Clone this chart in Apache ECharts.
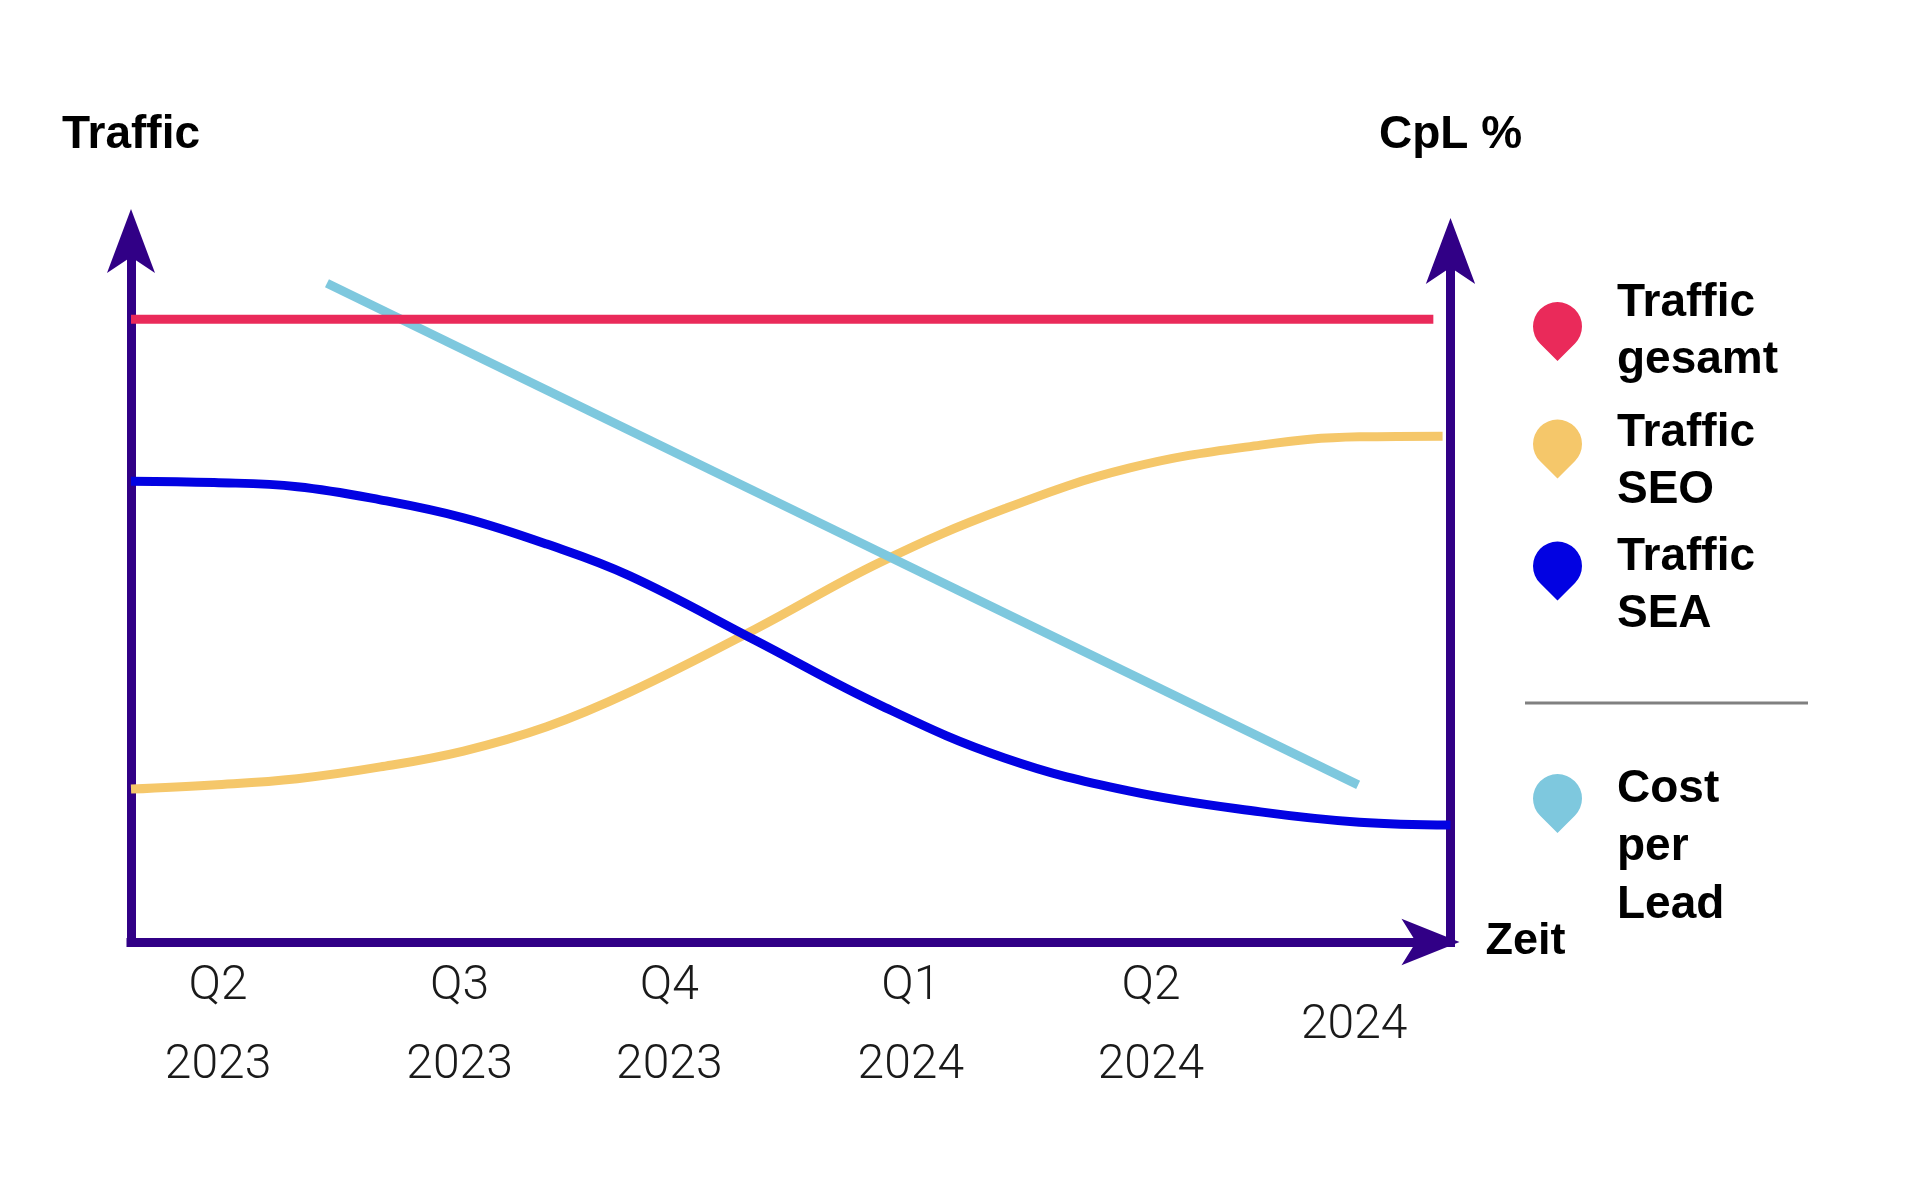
<!DOCTYPE html>
<html>
<head>
<meta charset="utf-8">
<script src="https://cdn.jsdelivr.net/npm/echarts@6/dist/echarts.min.js"></script>
<style>html,body{margin:0;padding:0;background:#fff}#c{width:1920px;height:1200px}</style>
</head>
<body>
<div id="c"></div>
<script>
// ---- data (time position 0..100 along the x axis, value 0..100) ----
const seriesNames = ['Traffic gesamt', 'Traffic SEO', 'Traffic SEA', 'Cost per Lead'];
const trafficGesamt = [[0, 90], [98.7, 90]];
const trafficSEO = [[0, 22.1], [6.2, 22.7], [12.6, 23.6], [18.9, 25.3], [25.2, 27.6], [31.5, 31.1], [37.8, 36.1], [47.3, 45.2], [56.8, 54.9], [66.2, 62.6], [75.7, 68.5], [85.6, 71.8], [93.1, 73.0], [99.4, 73.1]];
const trafficSEA = [[0, 66.6], [6.3, 66.4], [12.6, 65.8], [18.9, 63.9], [25.2, 61.3], [31.5, 57.5], [37.8, 52.9], [47.3, 43.6], [56.8, 34.2], [66.2, 26.6], [75.7, 21.8], [85.6, 18.8], [93.1, 17.3], [100, 16.9]];
const costPerLead = [[14.85, 95.2], [93.0, 22.7]];
const tickPositions = [6.6, 24.9, 40.8, 59.1, 77.3, 92.7];
const quarterLabels = ['Q2', 'Q3', 'Q4', 'Q1', 'Q2', ''];
const yearLabels = ['2023', '2023', '2023', '2024', '2024', '2024'];

const AXIS = '#310086';
const COLORS = { gesamt: '#EA2A5A', seo: '#F5C76A', sea: '#0202E2', cpl: '#7EC8DE' };
const BOLD = { fontFamily: 'Liberation Sans', fontWeight: 'bold', fontSize: 46, color: '#000' };
const PIN = 'path://M24.5,59 L7.2,41.9 A24.5,24.5 0 1 1 41.8,41.9 Z';

function legendBox(name, top, gap, lh) {
  return {
    data: [name], orient: 'vertical', left: 1533, top: top, padding: 0,
    icon: PIN, itemWidth: 49, itemHeight: 59, selectedMode: false,
    itemStyle: { borderWidth: 0 },
    formatter: n => (gap > 0 ? '{g| }\n' : '') + n.split(' ').map(w => '{t|' + w + '}').join('\n'),
    textStyle: Object.assign({}, BOLD, {
      lineHeight: lh, padding: [0, 0, 0, 30],
      rich: {
        g: { fontSize: 10, lineHeight: gap },
        t: Object.assign({}, BOLD, { lineHeight: lh })
      }
    })
  };
}

const chart = echarts.init(document.getElementById('c'), null, { renderer: 'canvas' });
chart.setOption({
  animation: false,
  backgroundColor: '#fff',
  grid: { left: 131, right: 469.5, top: 250, bottom: 258, containLabel: false },
  legend: [
    legendBox(seriesNames[0], 274.5, 0, 57),
    legendBox(seriesNames[1], 379, 26, 57),
    legendBox(seriesNames[2], 499, 30, 57),
    legendBox(seriesNames[3], 673, 87, 58)
  ],
  graphic: [{
    type: 'line', silent: true,
    shape: { x1: 1525, y1: 703, x2: 1808, y2: 703 },
    style: { stroke: '#808080', lineWidth: 3 }
  }],
  xAxis: {
    type: 'value', min: 0, max: 100,
    name: 'Zeit', nameLocation: 'end', nameGap: 35,
    nameTextStyle: Object.assign({}, BOLD, { fontSize: 45, lineHeight: 45 }),
    axisLine: { show: true, symbol: ['none', 'arrow'], symbolSize: [35, 58], symbolOffset: [0, 9],
      lineStyle: { color: AXIS, width: 9, cap: 'square' } },
    axisTick: { show: false },
    splitLine: { show: false },
    axisLabel: {
      customValues: tickPositions,
      margin: 5,
      fontFamily: 'Roboto', fontWeight: 300, fontSize: 48, lineHeight: 79, color: '#1a1a1a',
      formatter: function (v) {
        let i = tickPositions.findIndex(p => Math.abs(p - v) < 1e-6);
        if (i < 0) return '';
        if (!quarterLabels[i]) return '{solo|' + yearLabels[i] + '}';
        return quarterLabels[i] + '\n' + yearLabels[i];
      },
      rich: { solo: { fontFamily: 'Roboto', fontWeight: 300, fontSize: 48, lineHeight: 158, color: '#1a1a1a' } }
    }
  },
  yAxis: [{
    type: 'value', min: 0, max: 100, position: 'left',
    name: 'Traffic', nameLocation: 'end', nameGap: 92,
    nameTextStyle: Object.assign({}, BOLD, { lineHeight: 46 }),
    axisLine: { show: true, symbol: ['none', 'arrow'], symbolSize: [36, 64], symbolOffset: [0, 41],
      lineStyle: { color: AXIS, width: 9, cap: 'square' } },
    axisTick: { show: false }, axisLabel: { show: false }, splitLine: { show: false }
  }, {
    type: 'value', min: 0, max: 100, position: 'right',
    name: 'CpL %', nameLocation: 'end', nameGap: 92,
    nameTextStyle: Object.assign({}, BOLD, { lineHeight: 46 }),
    axisLine: { show: true, symbol: ['none', 'arrow'], symbolSize: [37, 66], symbolOffset: [0, 32],
      lineStyle: { color: AXIS, width: 9, cap: 'square' } },
    axisTick: { show: false }, axisLabel: { show: false }, splitLine: { show: false }
  }],
  series: [
    { name: seriesNames[1], type: 'line', data: trafficSEO, smooth: 0.4, symbol: 'none',
      itemStyle: { color: COLORS.seo }, lineStyle: { color: COLORS.seo, width: 9 } },
    { name: seriesNames[2], type: 'line', data: trafficSEA, smooth: 0.4, symbol: 'none',
      itemStyle: { color: COLORS.sea }, lineStyle: { color: COLORS.sea, width: 9 } },
    { name: seriesNames[3], type: 'line', yAxisIndex: 1, data: costPerLead, symbol: 'none',
      itemStyle: { color: COLORS.cpl }, lineStyle: { color: COLORS.cpl, width: 9 } },
    { name: seriesNames[0], type: 'line', data: trafficGesamt, symbol: 'none',
      itemStyle: { color: COLORS.gesamt }, lineStyle: { color: COLORS.gesamt, width: 9 } }
  ]
});
</script>
</body>
</html>
